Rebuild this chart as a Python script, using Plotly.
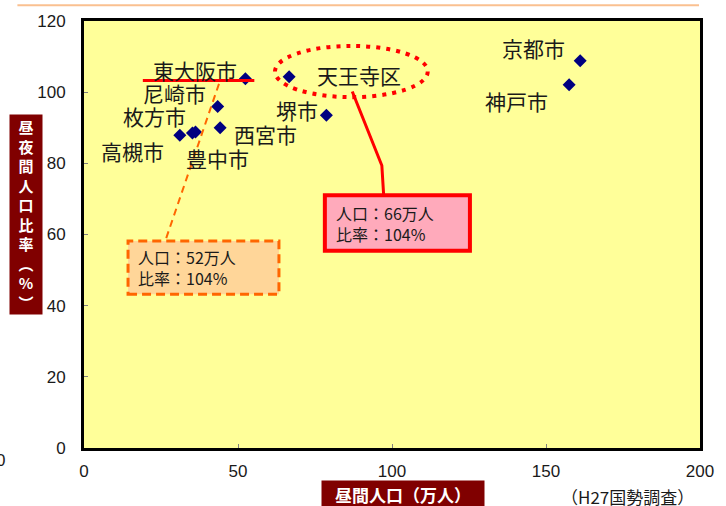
import plotly.graph_objects as go

# 昼間人口（万人）と昼夜間人口比率（%）
cities = ["高槻市", "枚方市", "豊中市", "尼崎市", "西宮市", "東大阪市", "天王寺区", "堺市", "京都市", "神戸市"]
day_pop = [31.1, 35.2, 36.2, 43.4, 44.2, 52.4, 66.6, 78.7, 161.1, 157.5]
ratio = [87.9, 88.5, 88.8, 96.0, 90.0, 103.8, 104.3, 93.5, 108.8, 102.1]

x_ticks = [0, 50, 100, 150, 200]
y_ticks = [0, 20, 40, 60, 80, 100, 120]

# text label positions (data coords, right edge / middle) for each city
label_x = [26.7, 33.7, 54.1, 40.1, 69.7, 50.2, 103.7, 76.6, 156.8, 151.4]
label_y = [83.5, 93.3, 81.6, 99.7, 88.2, 106.1, 104.7, 94.9, 112.5, 97.5]

JP = "Noto Sans CJK JP"
NUM = "Liberation Sans, Arial"

fig = go.Figure(go.Scatter(
    x=day_pop, y=ratio, mode="markers",
    marker=dict(symbol="diamond", size=10, color="#000080"),
    hoverinfo="skip", showlegend=False,
))

# plot area in pixels: x 84..713, y 17..448
def px(xp):
    return (xp - 84) / 629.0

def py(yp):
    return (448 - yp) / 431.0

ann = []
for name, lx, ly in zip(cities, label_x, label_y):
    ann.append(dict(x=lx, y=ly, xref="x", yref="y", text=name, showarrow=False,
                    xanchor="right", yanchor="middle",
                    font=dict(family=JP, size=21, color="#1a1a1a")))

box_font = dict(family=JP, size=16, color="#1a1a1a")
ann += [
    dict(x=17.0, y=50.7, xref="x", yref="y", xanchor="left", yanchor="middle",
         text="人口：52万人<br>比率：104%", align="left", showarrow=False, font=box_font),
    dict(x=81.3, y=63.2, xref="x", yref="y", xanchor="left", yanchor="middle",
         text="人口：66万人<br>比率：104%", align="left", showarrow=False, font=box_font),
    # y axis title box
    dict(x=px(25), y=py(212), xref="paper", yref="paper", showarrow=False,
         xanchor="center", yanchor="middle",
         text="<br>".join(list("昼夜間人口比率︵%︶")),
         width=30, height=197, bgcolor="#800000", valign="middle",
         font=dict(family=JP, size=15, color="white", weight="bold")),
    # x axis title box
    dict(x=px(410), y=py(494), xref="paper", yref="paper", showarrow=False,
         xanchor="center", yanchor="middle",
         text="昼間人口（万人）", width=160, height=24, bgcolor="#800000",
         font=dict(family=JP, size=17, color="white", weight="bold")),
    dict(x=px(639), y=py(497), xref="paper", yref="paper", showarrow=False,
         xanchor="center", yanchor="middle",
         text="（H27国勢調査）", font=dict(family=JP, size=17, color="#1a1a1a")),
    dict(x=px(5), y=py(461), xref="paper", yref="paper", showarrow=False,
         xanchor="right", yanchor="middle",
         text="0", font=dict(family=NUM, size=17, color="#1a1a1a")),
]

shapes = [
    # top decorative line
    dict(type="line", xref="paper", yref="paper", x0=px(16), x1=px(712), y0=py(1), y1=py(1),
         line=dict(color="#FAC090", width=2)),
    # orange dashed callout
    dict(type="line", x0=26.7, y0=59.0, x1=44.2, y1=103.3,
         line=dict(color="#FF6600", width=2, dash="7px,5px")),
    dict(type="rect", x0=14.3, x1=63.3, y0=43.2, y1=58.2, fillcolor="#FFD699",
         line=dict(color="#FF6600", width=3, dash="9px,5px"), layer="below"),
    # red underline under 東大阪市
    dict(type="line", x0=19.1, x1=55.3, y0=103.3, y1=103.3, line=dict(color="#FF0000", width=3)),
    # dotted ellipse around 天王寺区
    dict(type="circle", x0=62.0, x1=111.6, y0=98.6, y1=113.0,
         line=dict(color="#FF0000", width=4, dash="4px,6px")),
    # red callout line
    dict(type="path", path="M 87.1,100.2 L 96.7,79.4 L 97.3,71.0",
         line=dict(color="#FF0000", width=3)),
    dict(type="rect", x0=78.2, x1=125.3, y0=55.4, y1=71.0, fillcolor="#FFAABB",
         line=dict(color="#FF0000", width=4), layer="below"),
]

axis_common = dict(
    showgrid=False, zeroline=False, showline=True, mirror=True,
    linecolor="black", linewidth=3, ticks="inside", ticklen=4, tickwidth=1,
    tickcolor="#808080", tickfont=dict(family=NUM, size=17, color="#1a1a1a"),
)

fig.update_layout(
    width=726, height=506,
    margin=dict(l=84, r=13, t=17, b=58),
    paper_bgcolor="white", plot_bgcolor="#FFFF99",
    xaxis=dict(range=[0, 200], tickvals=x_ticks, ticklabelstandoff=6, **axis_common),
    yaxis=dict(range=[0, 120], tickvals=y_ticks, ticklabelstandoff=12, **axis_common),
    annotations=ann, shapes=shapes,
)

fig.write_html("out.html", config={"displayModeBar": False},
               post_script="document.body.style.margin='0';")
